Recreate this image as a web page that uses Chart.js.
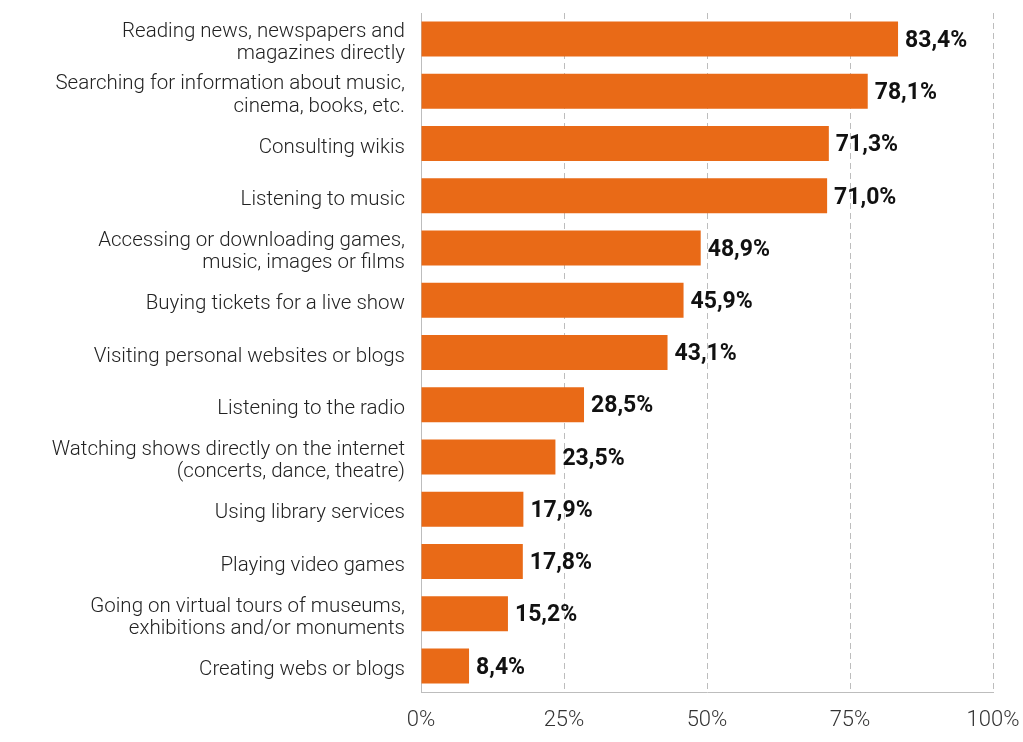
<!DOCTYPE html>
<html>
<head>
<meta charset="utf-8">
<script src="https://cdn.jsdelivr.net/npm/chart.js@4"></script>
<style>
html,body{margin:0;padding:0;background:#fff;}
#wrap{width:1023px;height:742px;}
</style>
</head>
<body>
<div id="wrap"><canvas id="c" width="1023" height="742"></canvas></div>
<script>
const categories = [
  ["Reading news, newspapers and", "magazines directly"],
  ["Searching for information about music,", "cinema, books, etc."],
  "Consulting wikis",
  "Listening to music",
  ["Accessing or downloading games,", "music, images or films"],
  "Buying tickets for a live show",
  "Visiting personal websites or blogs",
  "Listening to the radio",
  ["Watching shows directly on the internet", "(concerts, dance, theatre)"],
  "Using library services",
  "Playing video games",
  ["Going on virtual tours of museums,", "exhibitions and/or monuments"],
  "Creating webs or blogs"
];
const values = [83.4, 78.1, 71.3, 71.0, 48.9, 45.9, 43.1, 28.5, 23.5, 17.9, 17.8, 15.2, 8.4];
const xTicks = [0, 25, 50, 75, 100];

const valueLabels = {
  id: 'valueLabels',
  afterDatasetsDraw(chart) {
    const ctx = chart.ctx;
    const meta = chart.getDatasetMeta(0);
    ctx.save();
    ctx.font = 'bold 23px Roboto';
    ctx.fillStyle = '#111';
    ctx.textAlign = 'left';
    ctx.textBaseline = 'middle';
    meta.data.forEach((bar, i) => {
      const txt = values[i].toFixed(1).replace('.', ',') + '%';
      ctx.fillText(txt, bar.x + 7, bar.y + 2);
    });
    ctx.restore();
  }
};

new Chart(document.getElementById('c'), {
  type: 'bar',
  data: {
    labels: categories,
    datasets: [{
      data: values,
      backgroundColor: '#E96A17',
      borderWidth: 0,
      categoryPercentage: 1,
      barPercentage: 0.67
    }]
  },
  options: {
    indexAxis: 'y',
    responsive: false,
    animation: false,
    layout: { padding: { top: 13, right: 30, left: 0, bottom: 0 } },
    plugins: { legend: { display: false }, tooltip: { enabled: false } },
    scales: {
      x: {
        min: 0, max: 100,
        afterBuildTicks(s) { s.ticks = xTicks.map(v => ({ value: v })); },
        afterFit(s) { s.height = 50; s.paddingLeft = 0; s.paddingRight = 0; },
        ticks: {
          callback: v => v + '%',
          font: { family: 'Roboto', size: 22, weight: '300' },
          color: '#333',
          padding: 15,
          maxRotation: 0
        },
        grid: {
          drawTicks: false,
          color: ctx => ctx.tick && ctx.tick.value === 0 ? 'rgba(0,0,0,0)' : '#bdbdbd',
          lineWidth: 1
        },
        border: { display: true, color: '#bdbdbd', width: 1, dash: [6, 4] }
      },
      y: {
        afterFit(s) { s.width = 421; s.paddingTop = 0; s.paddingBottom = 0; },
        ticks: {
          font: { family: 'Roboto', size: 20.5, weight: '300', lineHeight: 1.08 },
          color: '#222',
          padding: 16,
          labelOffset: 4,
          crossAlign: 'near'
        },
        grid: { display: false, drawTicks: false },
        border: { display: true, color: '#bdbdbd', width: 1 }
      }
    }
  },
  plugins: [valueLabels]
});
</script>
</body>
</html>
